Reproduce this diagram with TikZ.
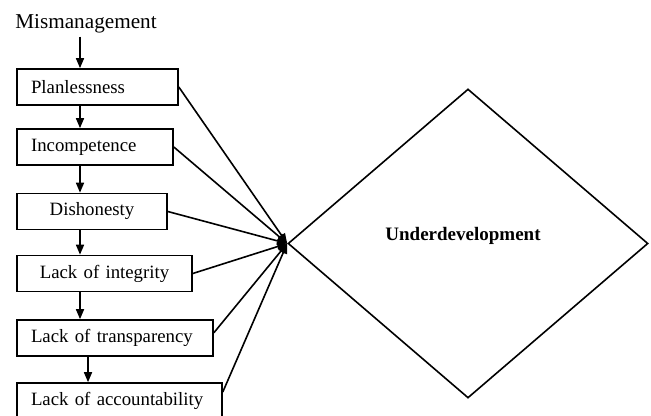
\documentclass[tikz,border=0pt]{standalone}
\usepackage{fontspec}
\setmainfont{Liberation Serif}
\usetikzlibrary{arrows.meta,shapes.geometric}

\begin{document}
\begin{tikzpicture}[x=0.5pt,y=-0.5pt,
  box/.style={draw, black, line width=0.8pt, minimum height=18pt, inner xsep=7pt, inner ysep=0pt, align=left, font=\fontsize{9.4}{11}\selectfont},
  link/.style={black, line width=0.8pt, -{Triangle[width=4pt,length=5pt]}}]
  \useasboundingbox (0,0) rectangle (651,416);
  \node[inner sep=1.5pt, font=\fontsize{10.6}{12}\selectfont] (mis) at (86,24) {Mismanagement};
  \node[box, text width=66.5pt] (plan) at (97.5,87) {Planlessness};
  \node[box, text width=64pt] (incomp) at (95,147) {Incompetence};
  \node[box, text width=61pt, align=center] (dishon) at (92,211.5) {Dishonesty};
  \node[box, text width=73.5pt, align=center] (integ) at (104.5,273.5) {Lack of integrity};
  \node[box, text width=84pt] (transp) at (115,338) {Lack of transparency};
  \node[box, text width=88.5pt] (account) at (119.5,401) {Lack of accountability};
  \node[draw, black, diamond, line width=0.8pt, minimum width=180pt, minimum height=154.5pt, inner sep=0pt, font=\bfseries\fontsize{9.5}{11}\selectfont] (under) at (468,243.5) {\raisebox{1.3pt}[0pt][0pt]{\hspace*{-5pt}Underdevelopment}};
  % the chain down the left
  \coordinate (ax) at (80,0);
  \coordinate (bx) at (88,0);
  \draw[link] (mis.south -| ax) -- (plan.north -| ax);
  \draw[link] (plan.south -| ax) -- (incomp.north -| ax);
  \draw[link] (incomp.south -| ax) -- (dishon.north -| ax);
  \draw[link] (dishon.south -| ax) -- (integ.north -| ax);
  \draw[link] (integ.south -| ax) -- (transp.north -| ax);
  \draw[link] (transp.south -| bx) -- (account.north -| bx);
  % all into the diamond
  \foreach \from in {plan.east,incomp.east,dishon.east,integ.east,transp.3,account.5}
    \draw[link] (\from) -- (under.west);
\end{tikzpicture}
\end{document}
